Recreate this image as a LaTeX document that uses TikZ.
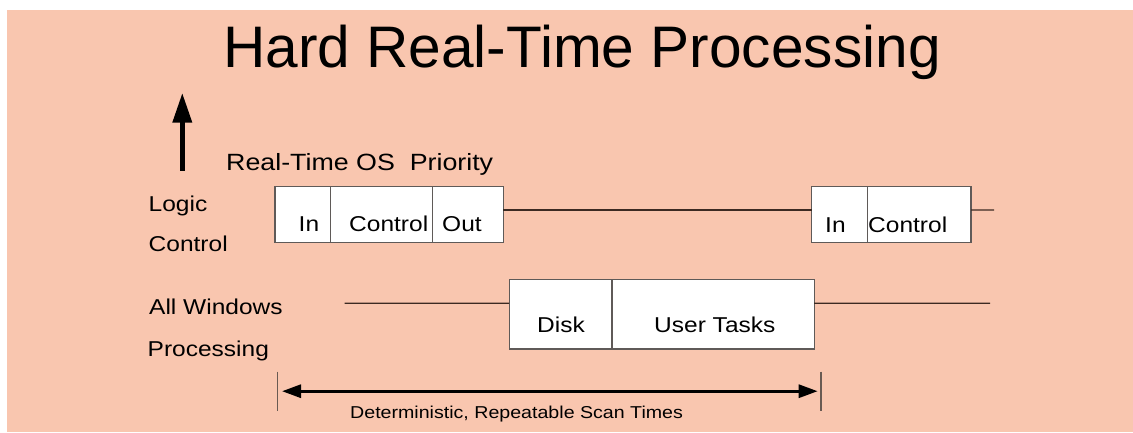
\documentclass[tikz,border=0pt]{standalone}
\usepackage{fontspec}
\setmainfont{Liberation Sans}
\newfontfamily\widesans[FakeStretch=1.14]{Liberation Sans}
\usetikzlibrary{arrows.meta,calc}

\definecolor{slide}{RGB}{249,198,175}
\definecolor{boxline}{RGB}{95,90,88}
\definecolor{timeline}{RGB}{60,42,34}
\definecolor{tickline}{RGB}{105,90,82}

\tikzset{
  lbl/.style={font=\widesans\fontsize{21.5}{24}\selectfont, inner sep=0pt, anchor=base west},
  cell/.style={draw=boxline, fill=white, line width=1.2pt, anchor=north west,
               inner sep=0pt, outer sep=0pt},
  rowone/.style={cell, minimum height=56pt},
  rowtwo/.style={cell, minimum height=69.7pt},
  wire/.style={draw=timeline, line width=1.2pt},
  tick/.style={draw=tickline, line width=1.4pt},
}

\begin{document}
\begin{tikzpicture}[x=1pt, y=-1pt]
  \useasboundingbox (0,0) rectangle (1133,432);
  \fill[slide] (7,10) rectangle (1133,432);

  % heading
  \node[font=\fontsize{58.6}{62}\selectfont, inner sep=0pt, anchor=base] (title)
    at (582,67) {Hard Real-Time Processing};

  % priority arrow
  \coordinate (pbase) at (182.3,170.7);
  \coordinate (ptip) at (182.3,92.7);
  \draw[line width=5.3pt, -{Triangle[length=30pt,width=18.5pt]}] (pbase) -- (ptip);
  \node[font=\widesans\fontsize{23.5}{26}\selectfont, inner sep=0pt, anchor=base west] (prio)
    at (226,170.7) {Real-Time OS\ \ Priority};

  % row labels
  \node[lbl] (logic) at (148.5,211.7) {Logic};
  \node[lbl] (logicb) at (148.5,251.7) {Control};
  \node[lbl] (allwin) at (149,314) {All Windows};
  \node[lbl] (allwinb) at (147.5,356) {Processing};

  % real-time cycle, first scan
  \node[rowone, minimum width=55.7pt] (in1) at (275,186.7) {};
  \node[rowone, minimum width=102pt] (ctl1) at (330.7,186.7) {};
  \node[rowone, minimum width=70.6pt] (out1) at (432.7,186.7) {};
  % real-time cycle, second scan
  \node[rowone, minimum width=55.6pt] (in2) at (811.7,186.7) {};
  \node[rowone, minimum width=103.7pt] (ctl2) at (867.3,186.7) {};

  \node[lbl] (in1t) at (298.5,231.7) {In};
  \node[lbl] (ctl1t) at (349,231.7) {Control};
  \node[lbl] (out1t) at (442,231.7) {Out};
  \node[lbl] (in2t) at (825,232.3) {In};
  \node[lbl] (ctl2t) at (868,232.3) {Control};

  % windows tasks
  \node[rowtwo, minimum width=102.7pt] (disk) at (509.2,279.3) {};
  \node[rowtwo, minimum width=202.2pt] (user) at (611.9,279.3) {};
  \node[lbl] (diskt) at (537,332.3) {Disk};
  \node[lbl] (usert) at (654,332.3) {User Tasks};

  % idle timelines
  \coordinate (rtend) at (994,210);
  \coordinate (wstart) at (344.5,303.3);
  \coordinate (wend) at (990,303.3);
  \draw[wire] ($(out1.north east)!0.416!(out1.south east)$) -- ($(in2.north west)!0.416!(in2.south west)$);
  \draw[wire] ($(ctl2.north east)!0.416!(ctl2.south east)$) -- (rtend);
  \draw[wire] (wstart) -- ($(disk.north west)!0.344!(disk.south west)$);
  \draw[wire] ($(user.north east)!0.344!(user.south east)$) -- (wend);

  % scan time markers
  \coordinate (ltop) at (277.5,371.7);
  \coordinate (lbot) at (277.5,410.7);
  \coordinate (rtop) at (821,371.7);
  \coordinate (rbot) at (821,410.7);
  \draw[tick] (ltop) -- (lbot);
  \draw[tick] (rtop) -- (rbot);
  \draw[line width=3pt, {Triangle[length=19pt,width=13pt]}-{Triangle[length=19pt,width=13pt]}]
    ([xshift=4.5pt]$(ltop)!0.5!(lbot)$) -- ([xshift=-3.3pt]$(rtop)!0.5!(rbot)$);
  \node[font=\widesans\fontsize{17.2}{19}\selectfont, inner sep=0pt, anchor=base west] (scan)
    at (350,418.3) {Deterministic, Repeatable Scan Times};
\end{tikzpicture}
\end{document}
